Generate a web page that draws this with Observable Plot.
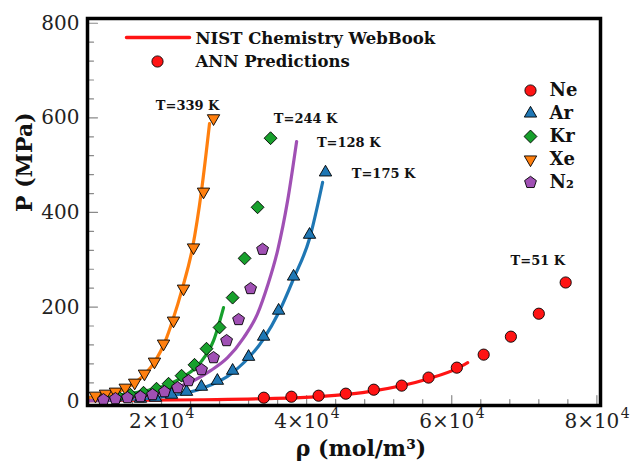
<!DOCTYPE html>
<html><head><meta charset="utf-8">
<script src="https://cdn.jsdelivr.net/npm/d3@7"></script>
<script src="https://cdn.jsdelivr.net/npm/@observablehq/plot@0.6"></script>
<style>body{margin:0;background:#fff}</style>
</head><body><div id="chart"></div>
<script>
// ---- data ----
const neRho = [34100, 37900, 41650, 45400, 49250, 53100, 56800, 60700, 64400, 68150, 72000, 75700];
const neP   = [8.5, 10.6, 12.7, 17, 25.4, 34, 51, 72, 99.5, 137.5, 186, 252];
const neLineRho = [9900, 25400, 34100, 41650, 49250, 56800, 60700, 62200];
const neLineP   = [2, 4.2, 6.3, 10.6, 23, 48.7, 70, 82.5];

const arRho = [17100, 19170, 21380, 23450, 25500, 27700, 29800, 32000, 34070, 36140, 38200, 40400, 42600];
const arP   = [6.3, 8.5, 14.8, 21, 31.7, 44.4, 65.6, 95, 137.6, 192.6, 264.6, 353, 484.7];
const arLineRho = [11600, 17100, 21380, 25500, 29800, 34070, 36140, 38200, 40400, 42200];
const arLineP   = [2, 6.3, 12.7, 27.5, 61.4, 133, 188, 260, 345, 463.5];

const krRho = [14070, 15720, 17520, 19310, 20970, 22760, 24550, 26200, 28000, 29800, 31450, 33240, 35030];
const krP   = [10.6, 14.8, 19, 27.5, 38, 55, 78, 112, 157, 220, 303, 411, 557];
const krLineRho = [11600, 15720, 18480, 20830, 23030, 25380, 27170, 28550];
const krLineP   = [8.5, 17, 25, 36, 53, 83, 129, 199];

const xeRho = [10900, 12280, 13650, 15000, 16300, 17650, 19030, 20280, 21650, 23030, 24410, 25790, 27170];
const xeP   = [12.7, 16.9, 21.2, 29.6, 40.2, 59.3, 84.7, 122.8, 171.4, 239, 326, 444, 599];
const xeLineRho = [9930, 11590, 13650, 15720, 17790, 19170, 20550, 21520, 22900, 24280, 25520, 26620];
const xeLineP   = [8.5, 12.7, 19, 33.9, 59.3, 86.8, 129, 171, 241, 326, 447, 588];

const n2Rho = [12000, 13650, 15310, 17100, 18760, 20410, 22210, 23720, 25520, 27170, 28970, 30620, 32280, 33930];
const n2P   = [4.2, 6.3, 8.5, 10.6, 14.8, 21, 29.6, 44.4, 67.7, 93, 129, 173.5, 239, 322];
const n2LineRho = [9930, 18480, 21650, 24410, 26760, 29100, 31310, 33240, 34620, 36000, 37380, 38620];
const n2LineP   = [2, 12.7, 27.5, 44.4, 65.6, 93, 135, 186, 245.5, 319.6, 425, 550];

const tempLabels = ["T=339 K", "T=244 K", "T=128 K", "T=175 K", "T=51 K"];
const tempRho    = [23600, 39860, 45800, 50600, 71860];
const tempP      = [626, 597, 548, 482, 298];

const xTicks = [20000, 40000, 60000, 80000];
const xTickLabels = ["2×10", "4×10", "6×10", "8×10"];
const xTickExp = "4";
const xMinorTicks = [12000, 16000, 24000, 28000, 32000, 36000, 44000, 48000, 52000, 56000, 64000, 68000, 72000, 76000];
const yTicks = [0, 200, 400, 600, 800];
const yMinorTicks = [40, 80, 120, 160, 240, 280, 320, 360, 440, 480, 520, 560, 640, 680, 720, 760];

const sourceLegend = ["NIST Chemistry WebBook", "ANN Predictions"];

// ---- styling ----
const pentagon = {draw(ctx, size) {
  const R = Math.sqrt(size / 2.378);
  for (let i = 0; i < 5; i++) {
    const a = -Math.PI / 2 + i * 2 * Math.PI / 5;
    const x = R * Math.cos(a), y = R * Math.sin(a);
    if (i) ctx.lineTo(x, y); else ctx.moveTo(x, y);
  }
  ctx.closePath();
}};

const species = [
  {name: "Ne", color: "#ff1414", symbol: "circle",   r: 5.6, rotate: 0,   rho: neRho, p: neP, lr: neLineRho, lp: neLineP},
  {name: "Ar", color: "#1f77b4", symbol: "triangle", r: 4.6, rotate: 0,   rho: arRho, p: arP, lr: arLineRho, lp: arLineP},
  {name: "Kr", color: "#17a02c", symbol: "diamond2", r: 5.8, rotate: 0,   rho: krRho, p: krP, lr: krLineRho, lp: krLineP},
  {name: "Xe", color: "#ff7f0e", symbol: "triangle", r: 4.6, rotate: 180, rho: xeRho, p: xeP, lr: xeLineRho, lp: xeLineP},
  {name: "N₂", color: "#a050b4", symbol: pentagon,   r: 5.4, rotate: 0,   rho: n2Rho, p: n2P, lr: n2LineRho, lp: n2LineP}
];

const marks = [];
// tick marks (inward)
const tickStyle = {anchor: "start", shape: "arrow", r: 0, stroke: "#8a8a8a", strokeWidth: 1.2};
marks.push(Plot.vector(xMinorTicks, {x: d => d, frameAnchor: "bottom", rotate: 0, length: 6, ...tickStyle}));
marks.push(Plot.vector(xTicks, {x: d => d, frameAnchor: "bottom", rotate: 0, length: 10, ...tickStyle}));
marks.push(Plot.vector(yMinorTicks, {y: d => d, frameAnchor: "left", rotate: 90, length: 6, ...tickStyle}));
marks.push(Plot.vector(yTicks, {y: d => d, frameAnchor: "left", rotate: 90, length: 10, ...tickStyle}));

// x tick labels: mantissa + superscript exponent
marks.push(Plot.text(xTicks, {x: d => d, frameAnchor: "bottom", dy: 22, dx: -5, text: (d, i) => xTickLabels[i],
  fontSize: 20, fill: "#222", textAnchor: "middle"}));
marks.push(Plot.text(xTicks, {x: d => d, frameAnchor: "bottom", dy: 12, dx: 24, text: () => xTickExp,
  fontSize: 14, fill: "#222", textAnchor: "start"}));
marks.push(Plot.axisY(yTicks, {tickSize: 0, tickPadding: 8, fontSize: 20, fill: "#222", label: null}));

// lines
for (const s of species) {
  const pts = s.lr.map((v, i) => ({rho: v, p: s.lp[i]}));
  marks.push(Plot.line(pts, {x: "rho", y: "p", stroke: s.color, strokeWidth: 3.2, curve: "monotone-x"}));
}
// markers
for (const s of species) {
  const pts = s.rho.map((v, i) => ({rho: v, p: s.p[i]}));
  marks.push(Plot.dot(pts, {x: "rho", y: "p", symbol: s.symbol, r: s.r, rotate: s.rotate,
    fill: s.color, stroke: "black", strokeWidth: 0.9}));
}
// temperature annotations
marks.push(Plot.text(tempLabels, {x: (d, i) => tempRho[i], y: (d, i) => tempP[i], text: d => d,
  fontSize: 13, fontWeight: "bold", fill: "#111", lineAnchor: "middle"}));

// legend: source
marks.push(Plot.vector([0], {frameAnchor: "top-left", dx: 39, dy: 19, rotate: 90, length: 63, anchor: "start",
  shape: "arrow", r: 0, stroke: "#ff1414", strokeWidth: 3.5}));
marks.push(Plot.dot([0], {frameAnchor: "top-left", dx: 70, dy: 43, r: 5.6, fill: "#ff1414", stroke: "black", strokeWidth: 0.9}));
marks.push(Plot.text([sourceLegend[0]], {frameAnchor: "top-left", text: d => d, dx: 108, dy: 20,
  textAnchor: "start", lineAnchor: "middle", fontSize: 16.5, fontWeight: "bold", fill: "#111"}));
marks.push(Plot.text([sourceLegend[1]], {frameAnchor: "top-left", text: d => d, dx: 108, dy: 43,
  textAnchor: "start", lineAnchor: "middle", fontSize: 16.5, fontWeight: "bold", fill: "#111"}));
// legend: species
species.forEach((s, i) => {
  marks.push(Plot.dot([0], {frameAnchor: "top-left", dx: 443, dy: 72 + i * 23, symbol: s.symbol, r: s.r, rotate: s.rotate,
    fill: s.color, stroke: "black", strokeWidth: 0.9}));
  marks.push(Plot.text([s.name], {frameAnchor: "top-left", dx: 462, dy: 72 + i * 23, text: d => d,
    textAnchor: "start", lineAnchor: "middle", fontSize: 18, fontWeight: "bold", fill: "#111"}));
});

// axis titles
marks.push(Plot.text(["P (MPa)"], {frameAnchor: "left", dx: -63, rotate: -90, text: d => d,
  fontSize: 22, fontWeight: "bold", fill: "#111"}));
marks.push(Plot.text(["ρ (mol/m³)"], {frameAnchor: "bottom", dx: 17, dy: 50, text: d => d,
  fontSize: 22, fontWeight: "bold", fill: "#111"}));

marks.push(Plot.frame({stroke: "black", strokeWidth: 3.5}));

const chart = Plot.plot({
  width: 630, height: 466,
  marginLeft: 87, marginRight: 30, marginTop: 18, marginBottom: 61,
  style: {fontFamily: "DejaVu Serif", background: "white", overflow: "visible"},
  x: {domain: [9800, 80500], axis: null},
  y: {domain: [-8, 810]},
  marks
});
document.getElementById("chart").appendChild(chart);
</script>
</body></html>
